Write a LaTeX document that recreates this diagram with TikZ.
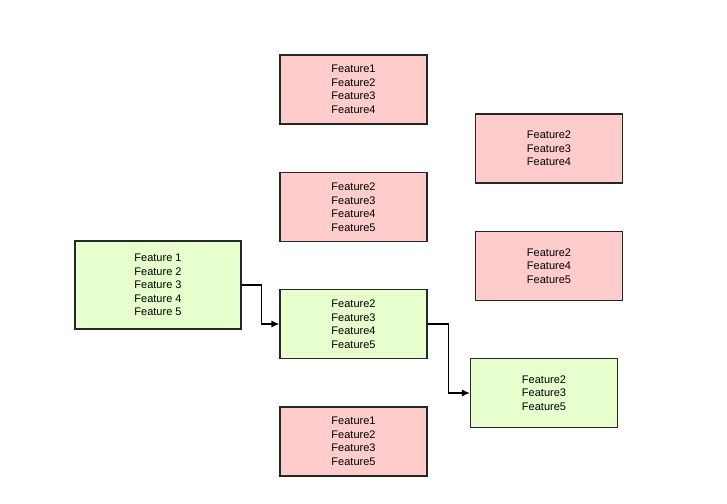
\documentclass[tikz,border=0pt]{standalone}
\usepackage{fontspec}
\setmainfont{Liberation Sans}
\usetikzlibrary{arrows.meta}
\definecolor{featred}{HTML}{FFCCCC}
\definecolor{featgreen}{HTML}{E6FFCC}

\begin{document}
\begin{tikzpicture}[x=1pt, y=-1pt,
    featbox/.style={draw=black!85, line width=1.2pt, minimum width=147pt, minimum height=69pt,
                    align=center, font=\fontsize{11}{13.5}\selectfont, inner sep=0pt},
    dropped/.style={featbox, fill=featred},
    kept/.style={featbox, fill=featgreen},
    link/.style={line width=1.2pt, -{Latex[length=8pt,width=7pt]}}]
      % \draw[help lines, gray!50, very thin] (0,0) grid (727,503);
      \useasboundingbox (0,0) rectangle (727,503);

      \node[kept, minimum width=166pt, minimum height=88pt] (full) at (158,285)
        {Feature 1\\Feature 2\\Feature 3\\Feature 4\\Feature 5};

      \node[dropped] (dropA) at (353.5,89.5) {Feature1\\Feature2\\Feature3\\Feature4};
      \node[dropped] (dropB) at (353.5,207) {Feature2\\Feature3\\Feature4\\Feature5};
      \node[kept] (keepA) at (353.5,324) {Feature2\\Feature3\\Feature4\\Feature5};
      \node[dropped] (dropC) at (353.5,441.5) {Feature1\\Feature2\\Feature3\\Feature5};

      \node[dropped] (dropD) at (549,148.5) {Feature2\\Feature3\\Feature4};
      \node[dropped] (dropE) at (549,266) {Feature2\\Feature4\\Feature5};
      \node[kept] (keepB) at (544,393) {Feature2\\Feature3\\Feature5};

      \draw[link] (full.east) -- ++(20,0) |- (keepA.west);
      \draw[link] (keepA.east) -- ++(21,0) |- (keepB.west);
    \end{tikzpicture}
\end{document}
